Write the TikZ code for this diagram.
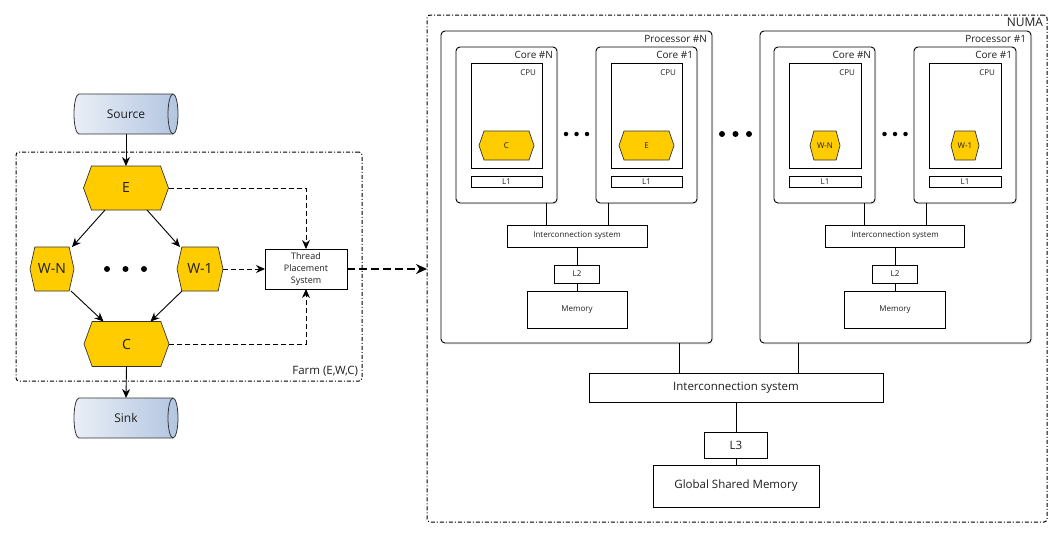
\documentclass[tikz,border=0pt]{standalone}
\usepackage{fontspec}
\setmainfont{Open Sans}
\usetikzlibrary{shapes.geometric,shapes.symbols,arrows.meta,calc,shadows}
\definecolor{hexfill}{RGB}{255,204,0}
\definecolor{cylL}{RGB}{234,239,247}
\definecolor{cylR}{RGB}{178,197,224}
\definecolor{txt}{RGB}{30,30,30}
\begin{document}
\begin{tikzpicture}[x=1pt,y=-1pt,
  every node/.style={inner sep=0pt,outer sep=0pt,text=txt},
  ln/.style={line width=1pt,draw=black},
  hexa/.style={shape=signal,signal to=east and west,draw=black!80,line width=0.7pt,fill=hexfill},
  cylnode/.style={minimum width=104pt,minimum height=40pt,font=\fontsize{12}{12}\selectfont},
  box/.style={draw=black,line width=0.9pt,fill=white},
  rbox/.style={draw=black,line width=0.9pt,fill=white,rounded corners=4pt,drop shadow={opacity=0.12,shadow xshift=1.5pt,shadow yshift=-1.5pt}},
  container/.style={draw=black,line width=1pt,rounded corners=3pt,dash pattern=on 4pt off 2pt on 1pt off 2pt},
  arr/.style={line width=0.9pt,-{Stealth[length=9pt,width=8pt]}},
  darr/.style={line width=0.9pt,dash pattern=on 5pt off 3pt,-{Stealth[length=9pt,width=8pt]}},
  bigarr/.style={line width=2pt,dash pattern=on 8pt off 4pt,-{Stealth[length=11pt,width=10pt]}},
  dotc/.style={fill=black,circle,minimum size=6pt},
  sdotc/.style={fill=black,circle,minimum size=4.5pt},
  tiny/.style={font=\fontsize{8}{8}\selectfont},
  small/.style={font=\fontsize{10}{10}\selectfont},
  mid/.style={font=\fontsize{11.5}{12}\selectfont},
  cylbody/.style={left color=cylL,right color=cylR,draw=black!80,line width=0.8pt},
]
\useasboundingbox (0,0) rectangle (1061,538);

% ---------------- Farm side ----------------
\node[container,minimum width=346pt,minimum height=229pt] (farm) at (189,266.5) {};
\node[anchor=south east,mid] (farmlbl) at ($(farm.south east)+(-4,-5)$) {Farm (E,W,C)};

% cylinders
\begin{scope}[shift={(126,114)},yscale=-1]
  \path[cylbody] (-47,20) -- (47,20) arc[start angle=90,end angle=-90,x radius=5,y radius=20]
     -- (-47,-20) arc[start angle=270,end angle=90,x radius=5,y radius=20] -- cycle;
  \draw[black!80,line width=0.8pt] (47,20) arc[start angle=90,end angle=270,x radius=5,y radius=20];
\end{scope}
\begin{scope}[shift={(126,418)},yscale=-1]
  \path[cylbody] (-47,20) -- (47,20) arc[start angle=90,end angle=-90,x radius=5,y radius=20]
     -- (-47,-20) arc[start angle=270,end angle=90,x radius=5,y radius=20] -- cycle;
  \draw[black!80,line width=0.8pt] (47,20) arc[start angle=90,end angle=270,x radius=5,y radius=20];
\end{scope}
\node[cylnode] (src) at (126,114) {Source};
\node[cylnode] (sink) at (126,418) {Sink};

\node[hexa,minimum width=85pt,minimum height=44pt,signal pointer angle=140,font=\fontsize{14}{14}\selectfont] (E) at (126,188) {E};
\node[hexa,minimum width=44pt,minimum height=44pt,signal pointer angle=155,font=\fontsize{14}{14}\selectfont] (WN) at (52,269) {W-N};
\node[hexa,minimum width=46pt,minimum height=44pt,signal pointer angle=155,font=\fontsize{14}{14}\selectfont] (W1) at (200,269) {W-1};
\node[hexa,minimum width=85pt,minimum height=45pt,signal pointer angle=140,font=\fontsize{14}{14}\selectfont] (C) at (126.5,344) {C};

\node[dotc] (fd1) at (107,269) {};
\node[dotc] (fd2) at (125.5,269) {};
\node[dotc] (fd3) at (144,269) {};

\node[box,minimum width=82pt,minimum height=40pt,align=center,font=\fontsize{9}{12}\selectfont] (tps) at (306,269) {Thread\\Placement\\System};

\draw[arr] (src.south) -- (E.north);
\draw[arr] ($(E.south)+(-21,0)$) -- ($(WN.north)+(20,0)$);
\draw[arr] ($(E.south)+(21,0)$) -- ($(W1.north)+(-20,0)$);
\draw[arr] ($(WN.south)+(19,0)$) -- ($(C.north)+(-23,0)$);
\draw[arr] ($(W1.south)+(-18,0)$) -- ($(C.north)+(24,0)$);
\draw[arr] (C.south) -- (sink.north);
\draw[darr] (E.east) -| (tps.north);
\draw[darr] (W1.east) -- (tps.west);
\draw[darr] (C.east) -| (tps.south);

% ---------------- NUMA side ----------------
\node[container,minimum width=620pt,minimum height=507pt] (numa) at (737,268.5) {};
\node[anchor=north east,font=\fontsize{12}{12}\selectfont] (numalbl) at ($(numa.north east)+(-4,3)$) {NUMA};

\draw[bigarr] (tps.east) -- (tps.east -| numa.west);

% Processor #N
\node[rbox,minimum width=271pt,minimum height=312pt] (pN) at (576.5,187) {};
\node[anchor=north east,small] (pNl) at ($(pN.north east)+(-5,4)$) {Processor \#N};
\node[rbox,minimum width=101pt,minimum height=156pt] (pNcN) at (506.5,125) {};
\node[anchor=north east,small] (pNcNl) at ($(pNcN.north east)+(-4,4)$) {Core \#N};
\node[box,minimum width=71pt,minimum height=105pt] (pNcNcpu) at (506.5,115.5) {};
\node[anchor=north east,tiny] (pNcNcpul) at ($(pNcNcpu.north east)+(-6,7)$) {CPU};
\node[box,minimum width=71pt,minimum height=11pt,tiny] (pNcNl1) at (506.5,181.5) {L1};
\node[hexa,minimum width=55pt,minimum height=29pt,signal pointer angle=142,tiny] (hC) at (506.5,145.5) {C};

\node[rbox,minimum width=101pt,minimum height=156pt] (pNc1) at (646.5,125) {};
\node[anchor=north east,small] (pNc1l) at ($(pNc1.north east)+(-4,4)$) {Core \#1};
\node[box,minimum width=71pt,minimum height=105pt] (pNc1cpu) at (646.5,115.5) {};
\node[anchor=north east,tiny] (pNc1cpul) at ($(pNc1cpu.north east)+(-6,7)$) {CPU};
\node[box,minimum width=71pt,minimum height=11pt,tiny] (pNc1l1) at (646.5,181.5) {L1};
\node[hexa,minimum width=55pt,minimum height=29pt,signal pointer angle=142,tiny] (hE) at (646.5,145.5) {E};

\node[sdotc] (pNd1) at (566,134) {};
\node[sdotc] (pNd2) at (576.5,134) {};
\node[sdotc] (pNd3) at (587,134) {};

\node[box,minimum width=140pt,minimum height=22pt,tiny] (pNic) at (577,236) {Interconnection system};
\node[box,minimum width=45pt,minimum height=18pt,tiny] (pNl2) at (577,274) {L2};
\node[box,minimum width=100pt,minimum height=37pt,tiny] (pNmem) at (577,309.5) {Memory};
\coordinate (pNxa) at (546,0);
\coordinate (pNxb) at (608,0);
\draw[ln] (pNic.north -| pNxa) -- (pNcN.south -| pNxa);
\draw[ln] (pNic.north -| pNxb) -- (pNc1.south -| pNxb);
\draw[ln] (pNic.south) -- (pNl2.north);
\draw[ln] (pNl2.south) -- (pNmem.north);

% dots between processors
\node[dotc] (pd1) at (722,134) {};
\node[dotc] (pd2) at (735.5,134) {};
\node[dotc] (pd3) at (749,134) {};

% Processor #1
\node[rbox,minimum width=271pt,minimum height=312pt] (p1) at (895.5,187) {};
\node[anchor=north east,small] (p1l) at ($(p1.north east)+(-5,4)$) {Processor \#1};
\node[rbox,minimum width=101pt,minimum height=156pt] (p1cN) at (824.5,125) {};
\node[anchor=north east,small] (p1cNl) at ($(p1cN.north east)+(-4,4)$) {Core \#N};
\node[box,minimum width=72pt,minimum height=105pt] (p1cNcpu) at (825,115.5) {};
\node[anchor=north east,tiny] (p1cNcpul) at ($(p1cNcpu.north east)+(-6,7)$) {CPU};
\node[box,minimum width=72pt,minimum height=11pt,tiny] (p1cNl1) at (825,181.5) {L1};
\node[hexa,minimum width=30pt,minimum height=29pt,signal pointer angle=150,tiny] (hWN) at (825,145.5) {W-N};

\node[rbox,minimum width=102pt,minimum height=156pt] (p1c1) at (965,125) {};
\node[anchor=north east,small] (p1c1l) at ($(p1c1.north east)+(-4,4)$) {Core \#1};
\node[box,minimum width=72pt,minimum height=105pt] (p1c1cpu) at (965,115.5) {};
\node[anchor=north east,tiny] (p1c1cpul) at ($(p1c1cpu.north east)+(-6,7)$) {CPU};
\node[box,minimum width=72pt,minimum height=11pt,tiny] (p1c1l1) at (965,181.5) {L1};
\node[hexa,minimum width=28pt,minimum height=29pt,signal pointer angle=150,tiny] (hW1) at (965,145.5) {W-1};

\node[sdotc] (p1d1) at (884.5,134) {};
\node[sdotc] (p1d2) at (895,134) {};
\node[sdotc] (p1d3) at (905.5,134) {};

\node[box,minimum width=139pt,minimum height=22pt,tiny] (p1ic) at (895,236) {Interconnection system};
\node[box,minimum width=45pt,minimum height=18pt,tiny] (p1l2) at (895,274) {L2};
\node[box,minimum width=101pt,minimum height=37pt,tiny] (p1mem) at (895,309.5) {Memory};
\coordinate (p1xa) at (864,0);
\coordinate (p1xb) at (926,0);
\draw[ln] (p1ic.north -| p1xa) -- (p1cN.south -| p1xa);
\draw[ln] (p1ic.north -| p1xb) -- (p1c1.south -| p1xb);
\draw[ln] (p1ic.south) -- (p1l2.north);
\draw[ln] (p1l2.south) -- (p1mem.north);

% global
\node[box,minimum width=294pt,minimum height=29pt,mid] (bic) at (736,387.5) {Interconnection system};
\node[box,minimum width=63pt,minimum height=26pt,mid] (l3) at (736,445) {L3};
\node[box,minimum width=166pt,minimum height=42pt,mid] (gsm) at (736,486) {Global Shared Memory};
\coordinate (gxa) at (679,0);
\coordinate (gxb) at (798,0);
\draw[ln] (bic.north -| gxa) -- (pN.south -| gxa);
\draw[ln] (bic.north -| gxb) -- (p1.south -| gxb);
\draw[ln] (bic.south) -- (l3.north);
\draw[ln] (l3.south) -- (gsm.north);
\end{tikzpicture}
\end{document}
